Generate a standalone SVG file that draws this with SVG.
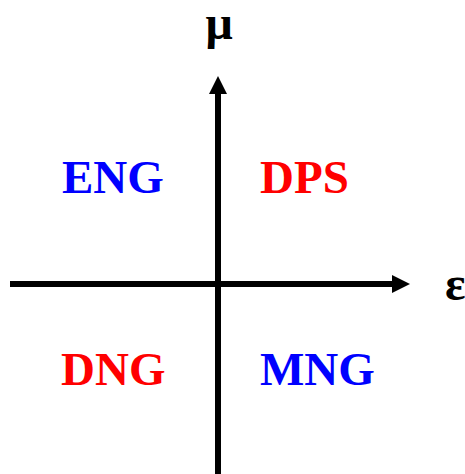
<svg xmlns="http://www.w3.org/2000/svg" width="465" height="474" viewBox="0 0 465 474">
<style>
.ax{stroke:#000;stroke-width:6;fill:none}
.lbl{font-family:"Liberation Serif","Times New Roman",serif;font-weight:bold;font-size:47px}
.gk{font-family:"Liberation Serif","Times New Roman",serif;font-weight:bold;font-size:48px;fill:#000}
.b{fill:#0000ff}.r{fill:#ff0000}
</style>
<defs>
<marker id="ah" viewBox="0 0 18 18" refX="0" refY="9" markerWidth="18" markerHeight="18" markerUnits="userSpaceOnUse" orient="auto">
<path d="M0,0 L18,9 L0,18 Z" fill="#000"/>
</marker>
</defs>
<rect width="465" height="474" fill="#fff"/>
<g id="connectors">
<line class="ax" x1="218" y1="474" x2="218" y2="94" marker-end="url(#ah)"/>
<line class="ax" x1="10" y1="284" x2="392" y2="284" marker-end="url(#ah)"/>
</g>
<g id="mu"><text class="gk" x="219" y="39" text-anchor="middle">μ</text></g>
<g id="eps"><text class="gk" x="445" y="300">ε</text></g>
<g id="ENG"><text class="lbl b" x="62" y="193">ENG</text></g>
<g id="DPS"><text class="lbl r" x="260" y="193">DPS</text></g>
<g id="DNG"><text class="lbl r" x="61" y="385">DNG</text></g>
<g id="MNG"><text class="lbl b" x="260" y="385">MNG</text></g>
</svg>
